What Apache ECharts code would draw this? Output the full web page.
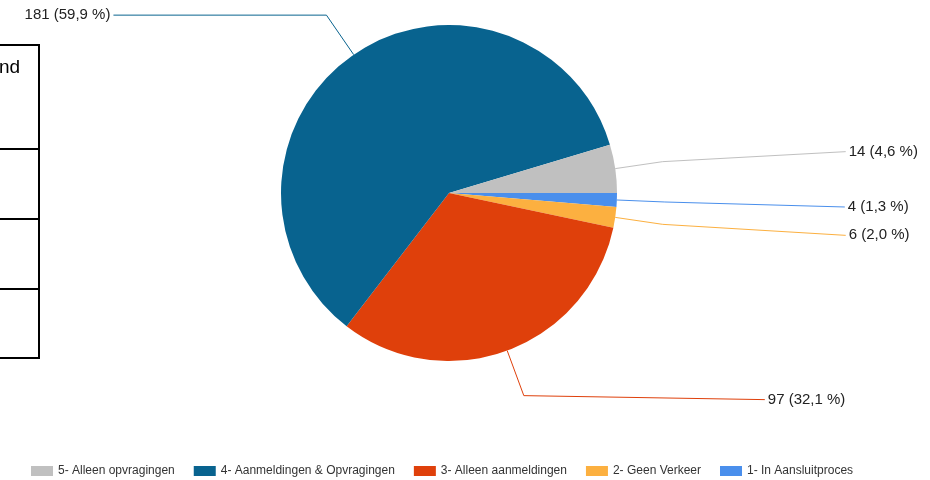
<!DOCTYPE html>
<html>
<head>
    <meta charset="utf-8">
    <title>Aansluitingen</title>
    <script src="https://cdn.jsdelivr.net/npm/echarts@6/dist/echarts.min.js"></script>
</head>
<body style="margin:0;background:#fff;">
<div id="main" style="width: 930px;height:480px;"></div>
<script type="text/javascript">
    // data, in volgorde met de klok mee vanaf 3 uur
    var categories = ['1- In Aansluitproces', '2- Geen Verkeer', '3- Alleen aanmeldingen', '4- Aanmeldingen & Opvragingen', '5- Alleen opvragingen'];
    var values = [4, 6, 97, 181, 14];
    var colors = ['#4a8fec', '#fcb040', '#df400b', '#08638f', '#c0c0c0'];
    var legendOrder = ['5- Alleen opvragingen', '4- Aanmeldingen & Opvragingen', '3- Alleen aanmeldingen', '2- Geen Verkeer', '1- In Aansluitproces'];

    // label tweaks (tweede stuk van de lijn + verschuiving)
    var labelLen2 = [180, 183, 241, 213, 183];
    var labelDy = [5, 11, 4, 0, -10];

    var pieData = [];
    for (var i = 0; i < categories.length; i++) {
        pieData.push({ name: categories[i], value: values[i], itemStyle: { color: colors[i] } });
    }

    var myChart = echarts.init(document.getElementById('main'));

    var option = {
        animation: false,
        backgroundColor: '#fff',
        legend: {
            data: legendOrder,
            left: 26,
            top: 460,
            itemWidth: 22,
            itemHeight: 10,
            itemGap: 19,
            icon: 'rect',
            textStyle: { fontSize: 12, color: '#333', fontFamily: 'Liberation Sans, Arial, sans-serif' }
        },
        graphic: [
            { type: 'line', shape: { x1: 0, y1: 45, x2: 39, y2: 45 }, style: { stroke: '#000', lineWidth: 2 } },
            { type: 'line', shape: { x1: 39, y1: 44, x2: 39, y2: 359 }, style: { stroke: '#000', lineWidth: 2 } },
            { type: 'line', shape: { x1: 0, y1: 149, x2: 39, y2: 149 }, style: { stroke: '#000', lineWidth: 2 } },
            { type: 'line', shape: { x1: 0, y1: 219, x2: 39, y2: 219 }, style: { stroke: '#000', lineWidth: 2 } },
            { type: 'line', shape: { x1: 0, y1: 289, x2: 39, y2: 289 }, style: { stroke: '#000', lineWidth: 2 } },
            { type: 'line', shape: { x1: 0, y1: 358, x2: 39, y2: 358 }, style: { stroke: '#000', lineWidth: 2 } },
            { type: 'text', left: -1, top: 58, style: { text: 'nd', fontSize: 19, fill: '#000', fontFamily: 'Liberation Sans, Arial, sans-serif' } }
        ],
        series: [
            {
                name: 'Aansluitingen',
                type: 'pie',
                center: [449, 193],
                radius: 168,
                startAngle: 0,
                clockwise: true,
                data: pieData,
                label: {
                    show: true,
                    formatter: function (p) {
                        return p.value + ' (' + p.percent.toFixed(1).replace('.', ',') + ' %)';
                    },
                    fontSize: 15,
                    color: '#222',
                    fontFamily: 'Liberation Sans, Arial, sans-serif'
                },
                labelLine: {
                    show: true,
                    length: 48,
                    length2: 20,
                    lineStyle: { width: 1 }
                },
                labelLayout: function (p) {
                    var pts = p.labelLinePoints;
                    if (!pts) return {};
                    var right = pts[1][0] > pts[0][0];
                    var endX = pts[1][0] + (right ? 1 : -1) * labelLen2[p.dataIndex];
                    var endY = pts[1][1] + labelDy[p.dataIndex];
                    return {
                        x: endX + (right ? 3 : -3),
                        y: endY,
                        align: right ? 'left' : 'right',
                        verticalAlign: 'middle',
                        labelLinePoints: [pts[0], pts[1], [endX, endY]]
                    };
                }
            }
        ]
    };
    myChart.setOption(option);
</script>
</body>
</html>
